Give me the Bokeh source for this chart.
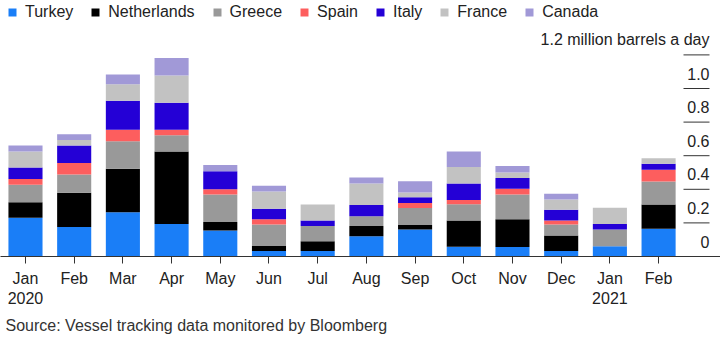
from bokeh.plotting import figure
from bokeh.models import Range1d, FixedTicker, Legend, LegendItem, Title, ColumnDataSource
from bokeh.core.properties import value
from bokeh.embed import file_html
from bokeh.resources import INLINE

months = ["Jan\n2020", "Feb", "Mar", "Apr", "May", "Jun", "Jul", "Aug", "Sep", "Oct", "Nov", "Dec", "Jan\n2021", "Feb"]
countries = ["Turkey", "Netherlands", "Greece", "Spain", "Italy", "France", "Canada"]
colors = ["#1a7ef7", "#000000", "#999999", "#fd5e5e", "#2400d6", "#c2c2c2", "#a199d7"]

turkey      = [0.230, 0.175, 0.264, 0.194, 0.155, 0.032, 0.032, 0.121, 0.161, 0.058, 0.056, 0.032, 0.061, 0.165]
netherlands = [0.093, 0.204, 0.258, 0.431, 0.051, 0.031, 0.059, 0.060, 0.027, 0.156, 0.166, 0.093, 0.000, 0.145]
greece      = [0.104, 0.109, 0.164, 0.097, 0.163, 0.127, 0.090, 0.059, 0.100, 0.097, 0.147, 0.065, 0.100, 0.136]
spain       = [0.035, 0.068, 0.068, 0.032, 0.032, 0.032, 0.000, 0.000, 0.031, 0.026, 0.034, 0.024, 0.000, 0.070]
italy       = [0.068, 0.105, 0.173, 0.161, 0.107, 0.062, 0.033, 0.066, 0.034, 0.098, 0.065, 0.064, 0.033, 0.036]
france      = [0.095, 0.033, 0.099, 0.162, 0.000, 0.103, 0.096, 0.129, 0.028, 0.097, 0.032, 0.061, 0.096, 0.033]
canada      = [0.036, 0.034, 0.057, 0.104, 0.036, 0.034, 0.000, 0.035, 0.067, 0.093, 0.038, 0.034, 0.000, 0.000]

y_ticks = [0, 0.2, 0.4, 0.6, 0.8, 1.0, 1.2]
y_tick_labels = ["0", "0.2", "0.4", "0.6", "0.8", "1.0", "1.2 million barrels a day"]
source_text = "Source: Vessel tracking data monitored by Bloomberg"

FONT = "Liberation Sans"
FS = "16px"
W, H = 720, 343
FRAME_H = 256
PX_PER_CAT = 48.7
X0 = -0.513
x_max = X0 + W / PX_PER_CAT
PX_PER_UNIT = 168.0
y_max = FRAME_H / PX_PER_UNIT

def px_to_x(px):
    return X0 + px / PX_PER_CAT

x = list(range(len(months)))
data = {"x": x}
series = [turkey, netherlands, greece, spain, italy, france, canada]
for name, vals in zip(countries, series):
    data[name] = vals
src = ColumnDataSource(data)

p = figure(width=W, height=H, x_range=Range1d(X0, x_max), y_range=Range1d(0, y_max),
           toolbar_location=None, output_backend="svg",
           min_border_left=0, min_border_right=0, min_border_top=0, min_border_bottom=H - FRAME_H)
p.outline_line_color = None
p.xgrid.visible = False
p.ygrid.visible = False
p.yaxis.visible = False

renderers = p.vbar_stack(countries, x="x", width=0.70, color=colors, source=src, line_color=None)

# x axis
ax = p.xaxis[0]
ax.ticker = FixedTicker(ticks=x)
ax.major_label_overrides = {i: m for i, m in zip(x, months)}
ax.major_tick_in = 0
ax.major_tick_out = 7
ax.minor_tick_line_color = None
ax.axis_line_color = "#333333"
ax.major_tick_line_color = "#333333"
ax.major_label_text_font = FONT
ax.major_label_text_font_size = FS
ax.major_label_text_color = "#222222"
ax.major_label_standoff = 6

# y labels and short tick lines on the right
lab_x = px_to_x(709)
line_x0 = px_to_x(683)
p.text(x=[lab_x] * len(y_ticks), y=y_ticks, text=y_tick_labels, text_align="right",
       text_baseline="alphabetic", y_offset=-15, text_font=value(FONT), text_font_size=FS,
       text_color="#222222")
p.segment(x0=[line_x0] * (len(y_ticks) - 1), x1=[lab_x] * (len(y_ticks) - 1), y0=y_ticks[1:], y1=y_ticks[1:],
          line_color="#333333", line_width=1)

# legend
items = [LegendItem(label=c, renderers=[r]) for c, r in zip(countries, renderers)]
legend = Legend(items=items, orientation="horizontal", location=(7, FRAME_H - 22),
                glyph_width=10, glyph_height=10, label_standoff=8, spacing=17,
                padding=0, margin=0, border_line_color=None, background_fill_alpha=0,
                label_text_font=FONT, label_text_font_size=FS, label_text_color="#222222",
                label_height=20)
p.add_layout(legend)

title = Title(text=source_text, align="left", text_font=FONT, text_font_size=FS,
              text_font_style="normal", text_color="#333333", offset=5, standoff=10)
p.add_layout(title, "below")

open("out.html", "w").write(file_html(p, INLINE))
